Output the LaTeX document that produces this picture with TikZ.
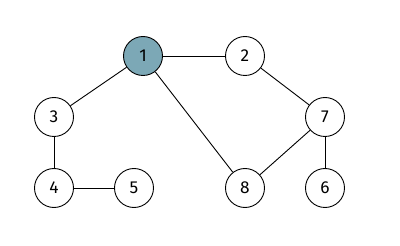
\documentclass[tikz,border=0pt]{standalone}
\usepackage{fontspec}
\setmainfont{Fira Sans}
\definecolor{nodeteal}{HTML}{7CA8B6}

\begin{document}
\begin{tikzpicture}[x=1pt, y=-1pt,
    vertex/.style={circle, draw, line width=0.9pt, fill=white, minimum size=39pt, inner sep=0pt, font=\LARGE}]
            \useasboundingbox (0,0) rectangle (400,246);
            % Draw nodes
            \node[vertex, fill=nodeteal] (1) at (143,56) {1};
            \node[vertex] (2) at (245,56) {2};
            \node[vertex] (3) at (54,117) {3};
            \node[vertex] (7) at (325,117) {7};
            \node[vertex] (4) at (54,188) {4};
            \node[vertex] (5) at (134,188) {5};
            \node[vertex] (8) at (245,188) {8};
            \node[vertex] (6) at (325,188) {6};

            % Draw connections
            \draw[line width=0.9pt] (1) -- (2);
            \draw[line width=0.9pt] (1) -- (3);
            \draw[line width=0.9pt] (1) -- (8);
            \draw[line width=0.9pt] (2) -- (7);
            \draw[line width=0.9pt] (7) -- (8);
            \draw[line width=0.9pt] (7) -- (6);
            \draw[line width=0.9pt] (3) -- (4);
            \draw[line width=0.9pt] (4) -- (5);
        \end{tikzpicture}
\end{document}
